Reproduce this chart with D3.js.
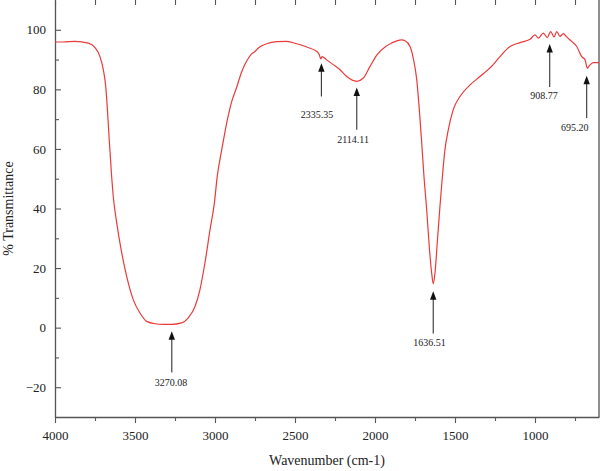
<!DOCTYPE html>
<html>
<head>
<meta charset="utf-8">
<script src="https://cdn.jsdelivr.net/npm/d3@7"></script>
<style>
  body { margin: 0; background: #fff; }
  svg text { font-family: 'Liberation Serif', 'DejaVu Serif', serif !important; fill: #222; }
</style>
</head>
<body>
<script>
// spectrum (wavenumber, % transmittance)
let wavenumbers = [4000, 3950, 3875, 3792, 3750, 3719, 3698, 3683, 3671, 3661, 3646, 3636, 3614, 3583, 3552, 3511,
  3469, 3427, 3375, 3320, 3271, 3208, 3167, 3125, 3094, 3063, 3031, 3004, 2986, 2958, 2927, 2896, 2864, 2833, 2802,
  2771, 2750, 2729, 2677, 2614, 2552, 2489, 2427, 2364, 2348, 2339, 2331, 2302, 2261, 2219, 2177, 2114, 2073, 2031,
  1989, 1927, 1864, 1833, 1812, 1781, 1761, 1739, 1723, 1708, 1694, 1677, 1661, 1646, 1636, 1625, 1611, 1594, 1577,
  1563, 1542, 1511, 1469, 1406, 1344, 1261, 1219, 1156, 1094, 1031, 1000, 979, 948, 923, 902, 881, 864, 844, 823,
  802, 771, 739, 708, 687, 673, 661, 636, 600];
let transmittance = [95.9, 95.9, 96.1, 95.5, 94.0, 91.0, 86.6, 81, 72, 63.1, 50.8, 44.1, 35.1, 25.1, 17.2, 9.4,
  4.9, 2.1, 1.3, 1.1, 1.1, 1.6, 3.3, 7.1, 12.8, 21.7, 32.9, 41.8, 50.8, 59.7, 68.7, 75.8, 80.8, 85.9, 89.5,
  91.9, 92.7, 93.9, 95.3, 96.0, 96.1, 95.3, 94.2, 92.7, 91.6, 90.2, 91.0, 89.9, 88.3, 86.6, 84.3, 82.7, 83.8, 87.7,
  91.5, 94.6, 96.3, 96.6, 96.3, 94.4, 90.5, 83.2, 73.2, 62, 50.8, 39.6, 27.3, 18.4, 14.8, 18.4, 28.4, 40.7, 51.9,
  59.7, 66.4, 73.2, 77.6, 81.5, 84.3, 88.3, 91, 94.4, 95.7, 96.8, 98.3, 97.2, 98.9, 97.4, 99.4, 97.6, 99.4, 97.8, 98.7,
  97.6, 96.1, 94.4, 91.0, 89.9, 87.1, 87.9, 89.0, 89.0];

// peak labels
let peakLabels = ['3270.08', '2335.35', '2114.11', '1636.51', '908.77', '695.20'];
let peakAt = [3270, 2335, 2114, 1636, 908, 677];
let peakTip = [-1.2, 88.8, 80.6, 12.2, 95.2, 84.6];
let peakTail = [-15.1, 77.6, 66.4, -2.0, 80.8, 70.4];
let labelAt = [3275, 2362, 2137, 1659, 944, 752];

let xMajor = [4000, 3500, 3000, 2500, 2000, 1500, 1000];
let xMinor = [3750, 3250, 2750, 2250, 1750, 1250, 750];
let yMajor = [-20, 0, 20, 40, 60, 80, 100];
let yMinor = [-10, 10, 30, 50, 70, 90];

let width = 600, height = 471;
let plotLeft = 55, plotRight = 599, plotTop = 0, plotBottom = 417;
let serif = "'Liberation Serif', 'DejaVu Serif', serif";

let svg = d3.select('body').append('svg').attr('width', width).attr('height', height);
svg.append('rect').attr('width', width).attr('height', height).attr('fill', '#fff');

let x = d3.scaleLinear().domain([4000, 600]).range([plotLeft, plotRight]);
let y = d3.scaleLinear().domain([-30, 110]).range([plotBottom, plotTop]);

function styleAxis(g) {
  g.attr('font-family', serif).attr('font-size', 13);
  g.selectAll('.domain').attr('stroke', '#555').attr('stroke-width', 1.3);
  g.selectAll('.tick line').attr('stroke', '#555').attr('stroke-width', 1.1);
  g.selectAll('text').attr('fill', '#222');
}

// bottom axis
svg.append('g').attr('transform', 'translate(0,' + plotBottom + ')')
  .call(d3.axisBottom(x).tickValues(xMajor).tickSize(6).tickSizeOuter(0).tickPadding(8).tickFormat(d3.format('d')))
  .call(styleAxis);
svg.append('g').attr('transform', 'translate(0,' + plotBottom + ')')
  .call(d3.axisBottom(x).tickValues(xMinor).tickSize(4).tickFormat(''))
  .call(g => g.select('.domain').remove())
  .call(styleAxis);

// top ticks
svg.append('g').attr('transform', 'translate(0,' + plotTop + ')')
  .call(d3.axisTop(x).tickValues(xMajor.concat(xMinor)).tickSize(-5).tickFormat(''))
  .call(g => g.select('.domain').remove())
  .call(styleAxis);

// left axis
svg.append('g').attr('transform', 'translate(' + plotLeft + ',0)')
  .call(d3.axisLeft(y).tickValues(yMajor).tickSize(-6).tickSizeOuter(0).tickPadding(9))
  .call(styleAxis);
svg.append('g').attr('transform', 'translate(' + plotLeft + ',0)')
  .call(d3.axisLeft(y).tickValues(yMinor).tickSize(-4).tickFormat(''))
  .call(g => g.select('.domain').remove())
  .call(styleAxis);

// right frame
svg.append('line').attr('x1', plotRight).attr('x2', plotRight).attr('y1', plotTop).attr('y2', plotBottom)
  .attr('stroke', '#444').attr('stroke-width', 1.2);

// spectrum
let line = d3.line()
  .x(function(d, i) { return x(wavenumbers[i]); })
  .y(function(d) { return y(d); })
  .curve(d3.curveMonotoneX);

svg.append('path').datum(transmittance)
  .attr('d', line)
  .attr('fill', 'none')
  .attr('stroke', '#ea3a3a')
  .attr('stroke-width', 1.2);

// arrows + labels
let peaks = svg.selectAll('.peak').data(peakLabels).enter().append('g').attr('class', 'peak');
peaks.append('line')
  .attr('x1', (d, i) => x(peakAt[i])).attr('x2', (d, i) => x(peakAt[i]))
  .attr('y1', (d, i) => y(peakTip[i]) + 6).attr('y2', (d, i) => y(peakTail[i]))
  .attr('stroke', '#333').attr('stroke-width', 1.1);
peaks.append('path')
  .attr('d', function(d, i) {
    let px = x(peakAt[i]), py = y(peakTip[i]);
    return 'M' + px + ',' + py + 'L' + (px - 3.2) + ',' + (py + 8.5) + 'L' + (px + 3.2) + ',' + (py + 8.5) + 'Z';
  })
  .attr('fill', '#111');
peaks.append('text')
  .attr('x', (d, i) => x(labelAt[i]))
  .attr('y', (d, i) => y(peakTip[i]) + 55)
  .attr('text-anchor', 'middle')
  .attr('font-family', serif)
  .attr('font-size', '10px')
  .text(d => d);

// axis titles
svg.append('text')
  .attr('x', (plotLeft + plotRight) / 2).attr('y', 465)
  .attr('text-anchor', 'middle').attr('font-size', '14px').attr('font-family', serif)
  .text('Wavenumber (cm-1)');
svg.append('text')
  .attr('transform', 'translate(13,' + ((plotTop + plotBottom) / 2) + ') rotate(-90)')
  .attr('text-anchor', 'middle').attr('font-size', '14px').attr('font-family', serif)
  .text('% Transmittance');
</script>
</body>
</html>
